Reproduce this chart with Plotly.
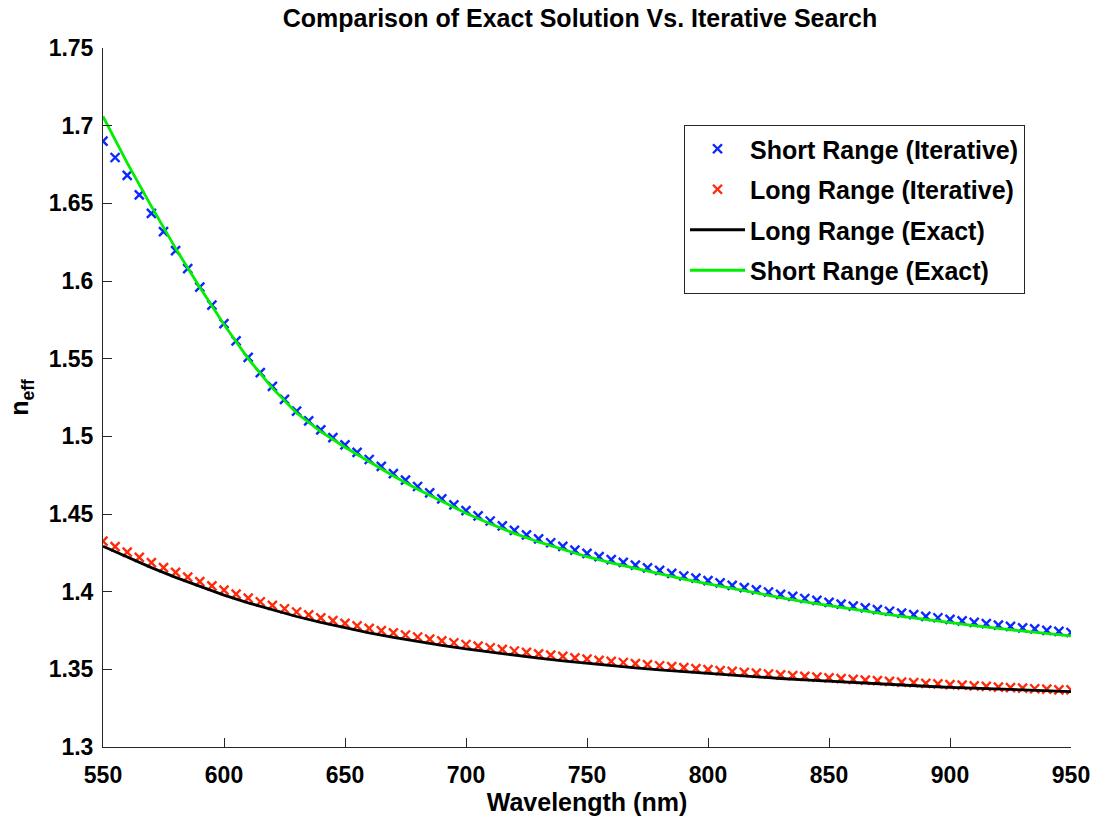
import plotly.graph_objects as go

# Wavelength grids (nm)
wl_iter = list(range(550, 951, 5))
wl_exact = list(range(550, 951, 10))

# Short range, iterative search (blue x)
short_iter = [
    1.6900, 1.6795, 1.6680, 1.6555, 1.6435, 1.6318, 1.6195, 1.6080, 1.5960, 1.5845,
    1.5725, 1.5615, 1.5508, 1.5410, 1.5322, 1.5238, 1.5162, 1.5100, 1.5042, 1.4992,
    1.4945, 1.4897, 1.4851, 1.4806, 1.4760, 1.4718, 1.4677, 1.4636, 1.4597, 1.4559,
    1.4522, 1.4488, 1.4455, 1.4424, 1.4394, 1.4366, 1.4340, 1.4315, 1.4291, 1.4268,
    1.4246, 1.4226, 1.4206, 1.4188, 1.4171, 1.4153, 1.4137, 1.4118, 1.4101, 1.4087,
    1.4071, 1.4057, 1.4041, 1.4026, 1.4011, 1.3998, 1.3983, 1.3970, 1.3956, 1.3944,
    1.3931, 1.3920, 1.3907, 1.3896, 1.3884, 1.3874, 1.3862, 1.3852, 1.3841, 1.3832,
    1.3821, 1.3812, 1.3802, 1.3794, 1.3784, 1.3776, 1.3767, 1.3760, 1.3751, 1.3744,
    1.3737,
]

# Long range, iterative search (red x)
long_iter = [
    1.4325, 1.4290, 1.4254, 1.4221, 1.4187, 1.4155, 1.4124, 1.4094, 1.4065, 1.4037,
    1.4010, 1.3984, 1.3959, 1.3935, 1.3912, 1.3890, 1.3869, 1.3850, 1.3831, 1.3813,
    1.3796, 1.3780, 1.3764, 1.3749, 1.3735, 1.3721, 1.3708, 1.3695, 1.3683, 1.3671,
    1.3660, 1.3649, 1.3639, 1.3628, 1.3618, 1.3609, 1.3600, 1.3591, 1.3583, 1.3574,
    1.3566, 1.3558, 1.3551, 1.3544, 1.3537, 1.3530, 1.3523, 1.3517, 1.3511, 1.3505,
    1.3498, 1.3492, 1.3487, 1.3481, 1.3475, 1.3470, 1.3464, 1.3459, 1.3455, 1.3450,
    1.3445, 1.3440, 1.3435, 1.3431, 1.3427, 1.3422, 1.3418, 1.3414, 1.3410, 1.3406,
    1.3402, 1.3398, 1.3394, 1.3390, 1.3386, 1.3382, 1.3379, 1.3375, 1.3372, 1.3368,
    1.3368,
]

# Long range, exact solution (black line)
long_exact = [
    1.4292, 1.4222, 1.4155, 1.4092, 1.4033, 1.3978, 1.3928, 1.3882, 1.3840, 1.3802,
    1.3767, 1.3735, 1.3706, 1.3679, 1.3654, 1.3631, 1.3610, 1.3590, 1.3572, 1.3555,
    1.3539, 1.3524, 1.3510, 1.3497, 1.3485, 1.3473, 1.3462, 1.3451, 1.3441, 1.3432,
    1.3423, 1.3414, 1.3406, 1.3398, 1.3391, 1.3384, 1.3378, 1.3372, 1.3367, 1.3362,
    1.3357,
]

# Short range, exact solution (green line)
short_exact = [
    1.7060, 1.6760, 1.6480, 1.6210, 1.5960, 1.5720, 1.5500, 1.5310, 1.5150, 1.5030,
    1.4930, 1.4835, 1.4745, 1.4660, 1.4580, 1.4505, 1.4437, 1.4375, 1.4320, 1.4270,
    1.4225, 1.4185, 1.4150, 1.4115, 1.4080, 1.4050, 1.4020, 1.3990, 1.3962, 1.3935,
    1.3910, 1.3886, 1.3863, 1.3841, 1.3820, 1.3800, 1.3781, 1.3763, 1.3746, 1.3730,
    1.3715,
]

x_ticks = [550, 600, 650, 700, 750, 800, 850, 900, 950]
y_ticks = [1.3, 1.35, 1.4, 1.45, 1.5, 1.55, 1.6, 1.65, 1.7, 1.75]
y_ticklabels = ["1.3", "1.35", "1.4", "1.45", "1.5", "1.55", "1.6", "1.65", "1.7", "1.75"]

FONT = "Liberation Sans, Arial, Helvetica, sans-serif"
AXC = "#262626"

fig = go.Figure()
marker_style = dict(symbol="x-thin", size=9)
fig.add_trace(go.Scatter(
    x=wl_iter, y=short_iter, mode="markers", name="Short Range (Iterative)",
    marker=dict(**marker_style, color="#0000ff", line=dict(width=2.4, color="#0a28ff")),
    legendgroup="a",
))
fig.add_trace(go.Scatter(
    x=wl_iter, y=long_iter, mode="markers", name="Long Range (Iterative)",
    marker=dict(**marker_style, color="#ff0000", line=dict(width=2.4, color="#ff2a0a")),
    legendgroup="b",
))
fig.add_trace(go.Scatter(
    x=wl_exact, y=long_exact, mode="lines", name="Long Range (Exact)",
    line=dict(color="#000000", width=2.8), legendgroup="c",
))
fig.add_trace(go.Scatter(
    x=wl_exact, y=short_exact, mode="lines", name="Short Range (Exact)",
    line=dict(color="#00ee00", width=2.8), legendgroup="d",
))

text_font = dict(family=FONT, size=25, color="black", weight="bold")
tick_font = dict(family=FONT, size=23, color="black", weight="bold")

fig.update_layout(
    width=1103, height=823,
    margin=dict(l=103, r=32, t=48, b=76),
    paper_bgcolor="white", plot_bgcolor="white",
    font=text_font,
    title=dict(text="Comparison of Exact Solution Vs. Iterative Search",
               x=580 / 1103, xanchor="center", xref="container",
               y=1 - 18 / 823, yanchor="middle", yref="container", font=text_font),
    showlegend=True,
    legend=dict(
        x=(684 - 103) / 968, y=(747 - 125) / 699, xanchor="left", yanchor="top",
        bordercolor="#262626", borderwidth=1, bgcolor="white",
        font=text_font,
        traceorder="grouped", tracegroupgap=5, itemwidth=55,
    ),
    xaxis=dict(
        range=[550, 950], tickmode="array", tickvals=x_ticks,
        ticks="inside", ticklen=9, tickcolor=AXC, tickwidth=1,
        showline=True, linecolor=AXC, linewidth=1, mirror=False,
        showgrid=False, zeroline=False, ticklabelstandoff=7,
        title=dict(text="Wavelength (nm)", standoff=4, font=text_font),
        tickfont=tick_font,
    ),
    yaxis=dict(
        range=[1.3, 1.75], tickmode="array", tickvals=y_ticks, ticktext=y_ticklabels,
        ticks="inside", ticklen=9, tickcolor=AXC, tickwidth=1,
        showline=True, linecolor=AXC, linewidth=1, mirror=False,
        showgrid=False, zeroline=False, ticklabelstandoff=4,
        title=dict(text="n<sub>eff</sub>", standoff=12, font=text_font),
        tickfont=tick_font,
    ),
)

fig.write_html("out.html")
